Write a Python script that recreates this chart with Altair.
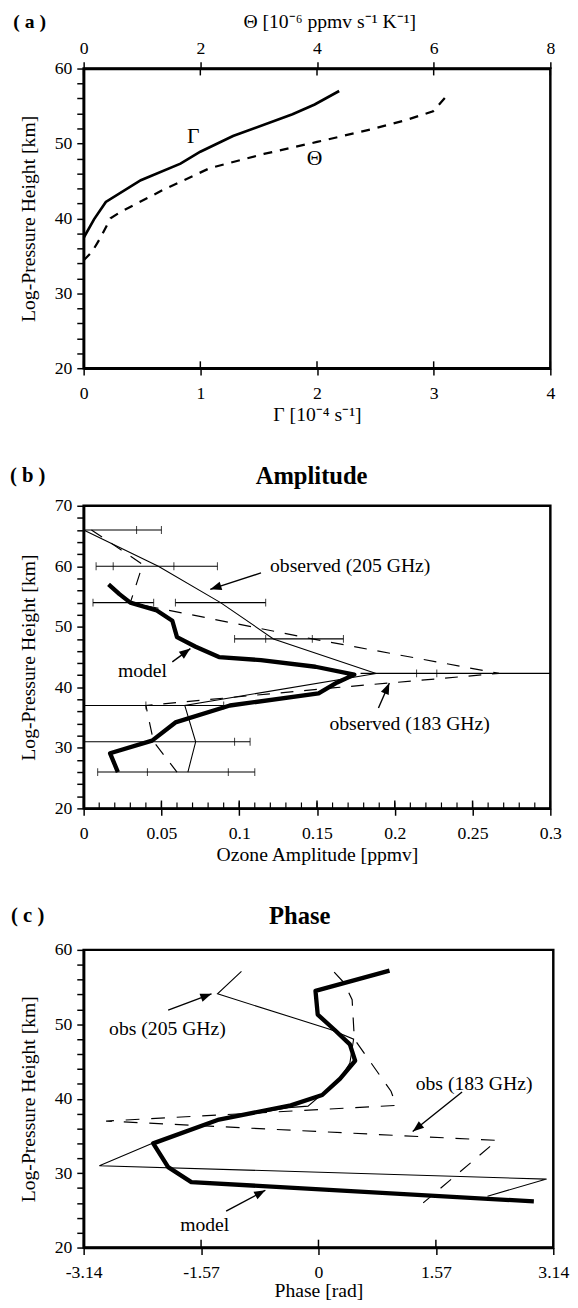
import math
import altair as alt
import pandas as pd

FONT = "Liberation Serif"

# ---------------- panel (a) data ----------------
a_gamma_h = [20.0, 37.4, 39.9, 42.2, 45.1, 47.3, 48.9, 51.0, 53.9, 55.2, 57.0]
a_gamma_v = [0.0, 0.0, 0.09, 0.19, 0.49, 0.83, 1.0, 1.28, 1.79, 1.98, 2.19]
a_theta_h = [34.4, 35.5, 37.3, 40.0, 40.8, 43.8, 46.7, 48.6, 50.2, 51.9, 53.2, 54.3, 56.5]
a_theta_v = [0.0, 0.14, 0.28, 0.46, 0.62, 1.36, 2.16, 3.09, 4.0, 4.94, 5.56, 5.99, 6.24]
a_gamma_ticks = [0, 1, 2, 3, 4]
a_theta_ticks = [0, 2, 4, 6, 8]
a_height_ticks = [20, 22, 24, 26, 28, 30, 32, 34, 36, 38, 40, 42, 44, 46, 48, 50,
                  52, 54, 56, 58, 60]
a_labels = ["Γ", "Θ"]
a_label_x = [0.94, 1.98]
a_label_y = [51.0, 48.0]

# ---------------- panel (b) data ----------------
b_model_h = [57.0, 55.4, 54.0, 52.7, 51.0, 48.3, 46.7, 45.0, 44.5, 43.4, 42.1, 40.8,
             39.0, 37.0, 34.2, 31.2, 29.1, 26.0]
b_model_v = [0.016, 0.023, 0.030, 0.047, 0.057, 0.060, 0.072, 0.087, 0.114, 0.149,
             0.174, 0.163, 0.151, 0.094, 0.059, 0.044, 0.017, 0.022]
b_o205_h = [66.0, 60.0, 54.0, 48.0, 42.3, 37.0, 31.0, 26.0]
b_o205_v = [0.0, 0.048, 0.088, 0.122, 0.188, 0.065, 0.072, 0.067]
b_o183_h = [66.0, 60.3, 54.0, 48.0, 42.3, 39.9, 37.0, 31.0, 26.0]
b_o183_v = [0.005, 0.038, 0.030, 0.147, 0.267, 0.160, 0.040, 0.045, 0.060]
b_bar_h = [66.0, 60.0, 54.0, 54.0, 48.0, 42.3, 37.0, 31.0, 26.0]
b_bar_lo = [0.0, 0.008, 0.006, 0.059, 0.097, 0.178, 0.0, 0.0, 0.009]
b_bar_hi = [0.050, 0.086, 0.045, 0.117, 0.167, 0.300, 0.090, 0.107, 0.110]
b_tick_h = [66.0, 66.0, 60.0, 60.0, 60.0, 60.0, 54.0, 54.0, 54.0, 54.0, 48.0, 48.0,
            48.0, 48.0, 42.3, 42.3, 37.0, 37.0, 31.0, 31.0, 26.0, 26.0, 26.0, 26.0]
b_tick_x = [0.034, 0.050, 0.008, 0.019, 0.058, 0.086, 0.006, 0.045, 0.059, 0.117,
            0.097, 0.117, 0.147, 0.167, 0.214, 0.227, 0.040, 0.090, 0.097, 0.107,
            0.009, 0.041, 0.093, 0.110]
b_amp_ticks = [0, 0.05, 0.1, 0.15, 0.2, 0.25, 0.3]
b_amp_minor = [0.0, 0.01, 0.02, 0.03, 0.04, 0.05, 0.06, 0.07, 0.08, 0.09, 0.1, 0.11,
               0.12, 0.13, 0.14, 0.15, 0.16, 0.17, 0.18, 0.19, 0.2, 0.21, 0.22, 0.23,
               0.24, 0.25, 0.26, 0.27, 0.28, 0.29, 0.3]
b_height_ticks = [20, 22, 24, 26, 28, 30, 32, 34, 36, 38, 40, 42, 44, 46, 48, 50,
                  52, 54, 56, 58, 60, 62, 64, 66, 68, 70]
b_text = ["observed (205 GHz)", "model", "observed (183 GHz)"]
b_text_x = [0.1198, 0.022, 0.158]
b_text_y = [60.0, 42.6, 33.9]
b_arrow_x = [0.114, 0.057, 0.1895]
b_arrow_y = [58.9, 44.2, 36.6]
b_arrow_x2 = [0.0814, 0.0686, 0.1965]
b_arrow_y2 = [56.2, 46.4, 40.7]

# ---------------- panel (c) data ----------------
c_model_h = [57.2, 54.5, 51.3, 49.3, 47.3, 45.1, 42.7, 40.5, 39.1, 37.2, 34.0, 30.8,
             28.8, 26.2]
c_model_v = [0.95, -0.04, -0.01, 0.21, 0.42, 0.49, 0.29, 0.05, -0.37, -1.33, -2.21,
             -2.01, -1.70, 2.88]
c_o205_h = [57.1, 54.1, 49.3, 48.0, 44.8, 42.7, 39.0, 38.8, 37.2, 34.0, 31.0, 29.2, 26.9]
c_o205_v = [-1.03, -1.35, 0.16, 0.47, 0.42, 0.29, -0.14, -0.40, -1.32, -2.22, -2.93,
            3.05, 2.26]
c_o183_h = [57.0, 55.6, 53.3, 51.5, 48.0, 41.0, 39.1, 37.0, 34.4, 26.0]
c_o183_v = [0.21, 0.34, 0.45, 0.46, 0.48, 0.97, 1.04, -2.84, 2.39, 1.40]
c_phase_ticks = [-3.14, -1.57, 0, 1.57, 3.14]
c_height_ticks = [20, 22, 24, 26, 28, 30, 32, 34, 36, 38, 40, 42, 44, 46, 48, 50,
                  52, 54, 56, 58, 60]
c_text = ["obs (205 GHz)", "obs (183 GHz)", "model"]
c_text_x = [-2.80, 1.30, -1.85]
c_text_y = [49.4, 42.0, 23.0]
c_arrow_x = [-2.01, 1.92, -1.235]
c_arrow_y = [51.9, 40.9, 24.9]
c_arrow_x2 = [-1.43, 1.26, -0.71]
c_arrow_y2 = [54.1, 35.6, 27.7]

panel_tags = ["( a )", "( b )", "( c )"]
panel_titles = ["Amplitude", "Phase"]

# ---------------- layout ----------------
W_A, H_A = 475, 305
W_B, H_B = 475, 308
W_C, H_C = 478, 303
ARROW = "M0,0L0.38,1L-0.38,1Z"

MAJOR_LABELS = "datum.value % 10 == 0 ? datum.label : ''"


def line_df(xs, ys):
    return pd.DataFrame({"x": xs, "y": ys, "i": list(range(len(xs)))})


def arrow_df(x, y, x2, y2, sx, sy):
    ang = [math.degrees(math.atan2((b - a) * sx, (d - c) * sy)) % 360
           for a, b, c, d in zip(x, x2, y, y2)]
    return pd.DataFrame({"x": x, "y": y, "x2": x2, "y2": y2, "ang": ang})


def y_axis(values):
    return alt.Axis(values=values, labelExpr=MAJOR_LABELS, labelOverlap=False,
                    title="Log-Pressure Height [km]", tickSize=7, labelPadding=5,
                    titlePadding=16)


def x_axis(values, title, orient="bottom", expr=None, lp=10, tp=2, title_x=None):
    kw = dict(values=values, title=title, orient=orient, tickSize=7, labelPadding=lp,
              titlePadding=tp, labelFlush=False, labelOverlap=False, format="~g")
    if expr:
        kw["labelExpr"] = expr
    if title_x is not None:
        kw["titleX"] = title_x
    return alt.Axis(**kw)


def tag(text, dx, dy, size=21, baseline="middle"):
    return alt.Chart(pd.DataFrame({"t": [text]})).mark_text(
        font=FONT, fontSize=size, fontWeight="bold", color="black",
        align="center", baseline=baseline).encode(
        x=alt.value(dx), y=alt.value(dy), text="t:N")


# ================= panel (a) =================
axA_x = x_axis(a_gamma_ticks, "Γ [10⁻⁴ s⁻¹]")
axA_t = x_axis(a_theta_ticks, "Θ [10⁻⁶ ppmv s⁻¹ K⁻¹]", orient="top", lp=4, tp=9,
               title_x=250)
axA_y = y_axis(a_height_ticks)


def gx(f):
    return alt.X(f + ":Q", scale=alt.Scale(domain=[0, 4], nice=False, zero=False), axis=axA_x)


def tx(f):
    return alt.X(f + ":Q", scale=alt.Scale(domain=[0, 8], nice=False, zero=False), axis=axA_t)


def ay(f):
    return alt.Y(f + ":Q", scale=alt.Scale(domain=[20, 60], nice=False, zero=False), axis=axA_y)


gamma_line = alt.Chart(line_df(a_gamma_v, a_gamma_h)).mark_line(
    color="black", strokeWidth=2.7, clip=True).encode(
    x=gx("x"), y=ay("y"), order=alt.Order("i:Q"))
gamma_ticks_in = alt.Chart(pd.DataFrame({"x": a_gamma_ticks})).mark_rule(
    color="black", strokeWidth=1.5).encode(
    x=gx("x"), y=alt.value(H_A), y2=alt.value(H_A - 7))
a_text = alt.Chart(pd.DataFrame({"x": a_label_x, "y": a_label_y, "t": a_labels})).mark_text(
    font=FONT, fontSize=22, color="black", align="center", baseline="middle").encode(
    x=gx("x"), y=ay("y"), text="t:N")
layer_gamma = alt.layer(gamma_line, gamma_ticks_in, a_text,
                        tag(panel_tags[0], -55, -47, size=20))

theta_line = alt.Chart(line_df(a_theta_v, a_theta_h)).mark_line(
    color="black", strokeWidth=2.3, strokeDash=[9, 8], clip=True).encode(
    x=tx("x"), y=ay("y"), order=alt.Order("i:Q"))
theta_ticks_in = alt.Chart(pd.DataFrame({"x": a_theta_ticks})).mark_rule(
    color="black", strokeWidth=1.5).encode(
    x=tx("x"), y=alt.value(0), y2=alt.value(7))
layer_theta = alt.layer(theta_line, theta_ticks_in)

panel_a = alt.layer(layer_gamma, layer_theta).resolve_scale(x="independent").properties(
    width=W_A, height=H_A)

# ================= panel (b) =================
axB_x = x_axis(b_amp_ticks, "Ozone Amplitude [ppmv]")
axB_y = y_axis(b_height_ticks)
B_XD, B_YD = [0, 0.3], [20, 70]


def bx(f):
    return alt.X(f + ":Q", scale=alt.Scale(domain=B_XD, nice=False, zero=False), axis=axB_x)


def by(f):
    return alt.Y(f + ":Q", scale=alt.Scale(domain=B_YD, nice=False, zero=False), axis=axB_y)


b_model = alt.Chart(line_df(b_model_v, b_model_h)).mark_line(
    color="black", strokeWidth=4.4, clip=True, strokeJoin="round").encode(
    x=bx("x"), y=by("y"), order=alt.Order("i:Q"))
b_205 = alt.Chart(line_df(b_o205_v, b_o205_h)).mark_line(
    color="black", strokeWidth=1.1, clip=True).encode(
    x=bx("x"), y=by("y"), order=alt.Order("i:Q"))
b_183 = alt.Chart(line_df(b_o183_v, b_o183_h)).mark_line(
    color="black", strokeWidth=1.2, strokeDash=[13, 11], clip=True).encode(
    x=bx("x"), y=by("y"), order=alt.Order("i:Q"))
b_bars = alt.Chart(pd.DataFrame({"x": b_bar_lo, "x2": b_bar_hi, "y": b_bar_h})).mark_rule(
    color="black", strokeWidth=1.1, clip=True).encode(
    x=bx("x"), x2="x2:Q", y=by("y"))
b_bar_ticks = alt.Chart(pd.DataFrame({"x": b_tick_x, "y": b_tick_h})).mark_tick(
    color="black", orient="vertical", size=8, thickness=1.1, clip=True).encode(
    x=bx("x"), y=by("y"))
b_minor_in = alt.Chart(pd.DataFrame({"x": b_amp_minor})).mark_rule(
    color="black", strokeWidth=1.2).encode(
    x=bx("x"), y=alt.value(H_B), y2=alt.value(H_B - 6))
b_major_in = alt.Chart(pd.DataFrame({"x": b_amp_ticks})).mark_rule(
    color="black", strokeWidth=1.5).encode(
    x=bx("x"), y=alt.value(H_B), y2=alt.value(H_B - 8))
b_labels = alt.Chart(pd.DataFrame({"x": b_text_x, "y": b_text_y, "t": b_text})).mark_text(
    font=FONT, fontSize=20, color="black", align="left", baseline="middle").encode(
    x=bx("x"), y=by("y"), text="t:N")
b_adf = arrow_df(b_arrow_x, b_arrow_y, b_arrow_x2, b_arrow_y2,
                 W_B / (B_XD[1] - B_XD[0]), H_B / (B_YD[1] - B_YD[0]))
b_arrow_shaft = alt.Chart(b_adf).mark_rule(color="black", strokeWidth=1.4).encode(
    x=bx("x"), y=by("y"), x2="x2:Q", y2="y2:Q")
b_arrow_head = alt.Chart(b_adf).mark_point(
    shape=ARROW, filled=True, color="black", size=520, opacity=1).encode(
    x=bx("x2"), y=by("y2"), angle=alt.Angle("ang:Q", scale=None))

panel_b = alt.layer(
    b_bars, b_bar_ticks, b_205, b_183, b_model, b_minor_in, b_major_in,
    b_labels, b_arrow_shaft, b_arrow_head,
    tag(panel_tags[1], -57, -30),
    tag(panel_titles[0], 232, -30, size=25),
).properties(width=W_B, height=H_B)

# ================= panel (c) =================
PH_EXPR = ("datum.value == 0 ? '0' : (datum.value < 0 ? '-' + format(-datum.value, '.2f')"
           " : format(datum.value, '.2f'))")
axC_x = x_axis(c_phase_ticks, "Phase [rad]", expr=PH_EXPR, lp=9, tp=0)
axC_y = y_axis(c_height_ticks)
C_XD, C_YD = [-3.14, 3.14], [20, 60]


def cx(f):
    return alt.X(f + ":Q", scale=alt.Scale(domain=C_XD, nice=False, zero=False), axis=axC_x)


def cy(f):
    return alt.Y(f + ":Q", scale=alt.Scale(domain=C_YD, nice=False, zero=False), axis=axC_y)


c_model = alt.Chart(line_df(c_model_v, c_model_h)).mark_line(
    color="black", strokeWidth=4.4, clip=True, strokeJoin="round").encode(
    x=cx("x"), y=cy("y"), order=alt.Order("i:Q"))
c_205 = alt.Chart(line_df(c_o205_v, c_o205_h)).mark_line(
    color="black", strokeWidth=1.1, clip=True).encode(
    x=cx("x"), y=cy("y"), order=alt.Order("i:Q"))
c_183 = alt.Chart(line_df(c_o183_v, c_o183_h)).mark_line(
    color="black", strokeWidth=1.2, strokeDash=[14, 12], clip=True).encode(
    x=cx("x"), y=cy("y"), order=alt.Order("i:Q"))
c_major_in = alt.Chart(pd.DataFrame({"x": c_phase_ticks})).mark_rule(
    color="black", strokeWidth=1.5).encode(
    x=cx("x"), y=alt.value(H_C), y2=alt.value(H_C - 8))
c_labels = alt.Chart(pd.DataFrame({"x": c_text_x, "y": c_text_y, "t": c_text})).mark_text(
    font=FONT, fontSize=20, color="black", align="left", baseline="middle").encode(
    x=cx("x"), y=cy("y"), text="t:N")
c_adf = arrow_df(c_arrow_x, c_arrow_y, c_arrow_x2, c_arrow_y2,
                 W_C / (C_XD[1] - C_XD[0]), H_C / (C_YD[1] - C_YD[0]))
c_arrow_shaft = alt.Chart(c_adf).mark_rule(color="black", strokeWidth=1.4).encode(
    x=cx("x"), y=cy("y"), x2="x2:Q", y2="y2:Q")
c_arrow_head = alt.Chart(c_adf).mark_point(
    shape=ARROW, filled=True, color="black", size=520, opacity=1).encode(
    x=cx("x2"), y=cy("y2"), angle=alt.Angle("ang:Q", scale=None))

panel_c = alt.layer(
    c_205, c_183, c_model, c_major_in, c_labels, c_arrow_shaft, c_arrow_head,
    tag(panel_tags[2], -57, -34),
    tag(panel_titles[1], 220, -34, size=25),
).properties(width=W_C, height=H_C)

chart = alt.vconcat(panel_a, panel_b, panel_c, spacing=37).properties(
    padding={"left": 0, "top": -10, "right": 0, "bottom": 0},
    background="white",
).configure_view(
    stroke="black", strokeWidth=2.5
).configure_axis(
    grid=False, domainColor="black", domainWidth=2.5, tickColor="black", tickWidth=1.5,
    labelColor="black", titleColor="black", labelFont=FONT, labelFontSize=18,
    titleFont=FONT, titleFontSize=20, titleFontWeight="normal",
)

chart.save("out.html", embed_options={"renderer": "svg", "actions": False})
